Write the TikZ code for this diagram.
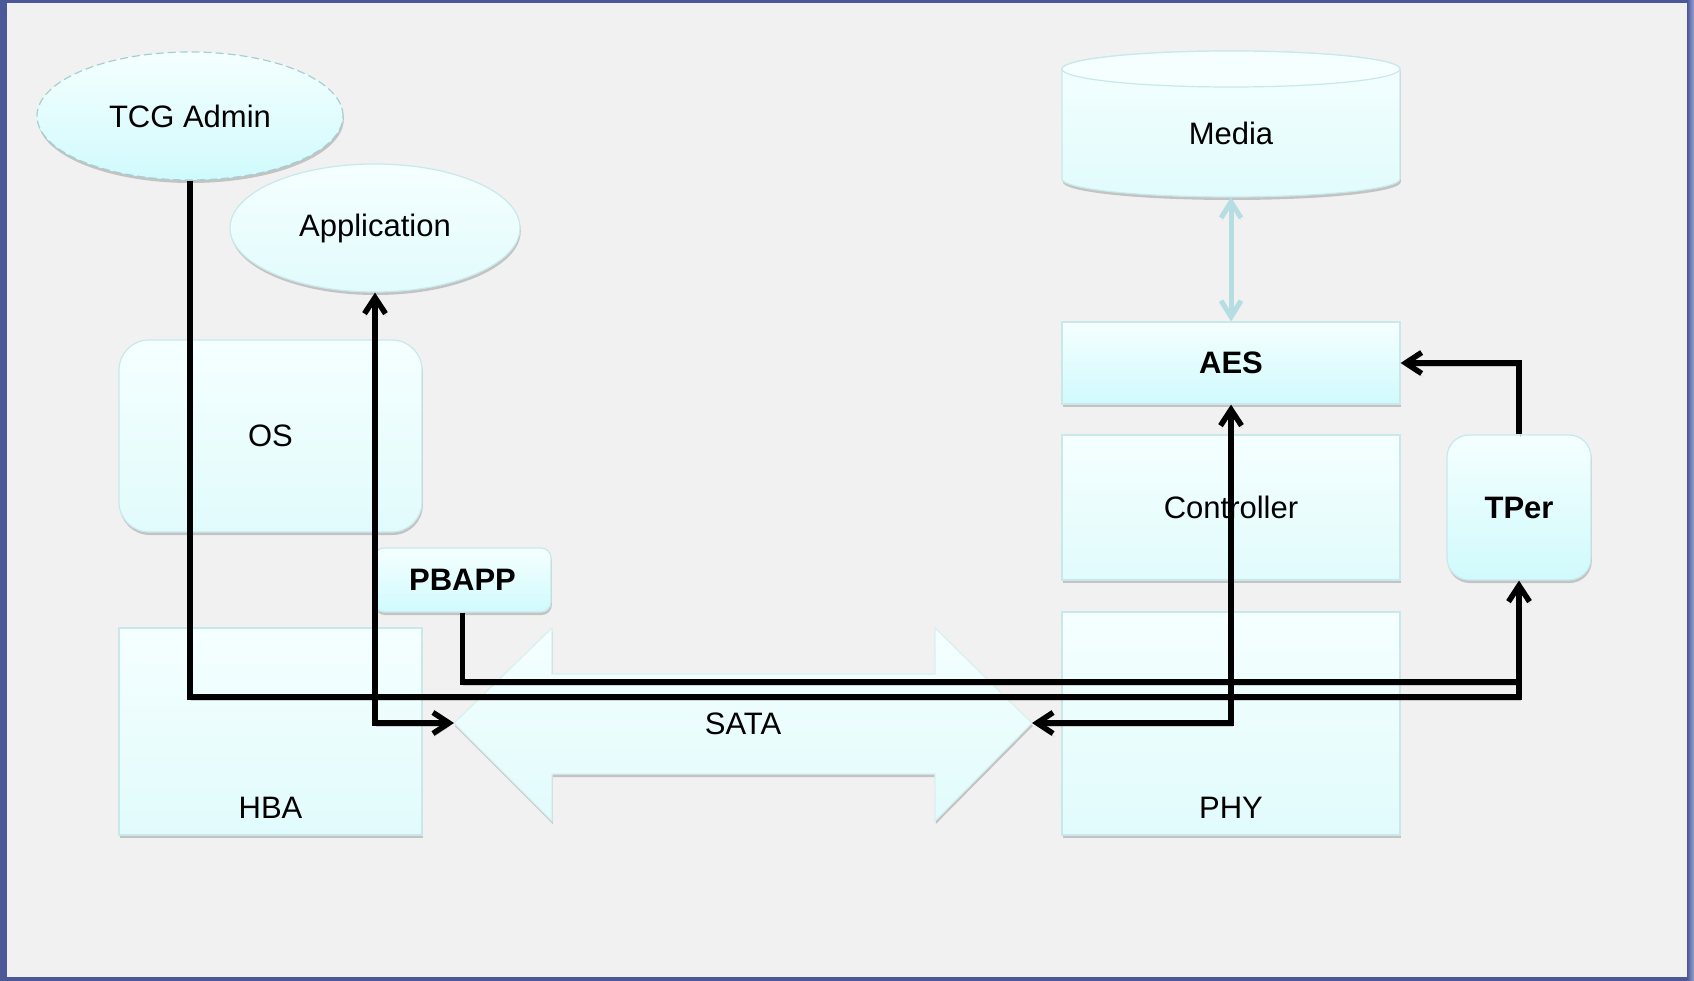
\documentclass[tikz,border=0pt]{standalone}
\usepackage{fontspec}
\setmainfont{Liberation Sans}
\usetikzlibrary{arrows.meta,shadows,calc,shapes.geometric}

\definecolor{pagebg}{HTML}{F1F1F1}
\definecolor{frameblue}{HTML}{4C5999}
\definecolor{framelight}{HTML}{9AA2D0}
\definecolor{edgecol}{HTML}{C9E8EA}
\definecolor{dashcol}{HTML}{A4D0D4}
\definecolor{paletop}{HTML}{F5FFFF}
\definecolor{palebot}{HTML}{E1FBFC}
\definecolor{deepbot}{HTML}{D0FAFC}
\definecolor{linkblue}{HTML}{B6DEE2}

\tikzset{
  barb/.tip={Straight Barb[length=16pt,width=21pt]},
  softbarb/.tip={Straight Barb[length=16pt,width=20pt]},
}

\begin{document}
\begin{tikzpicture}[x=1pt,y=-1pt,
  lbl/.style={font=\fontsize{31}{37}\selectfont,text=black},
  boldlbl/.style={font=\fontsize{31}{37}\selectfont\bfseries,text=black},
  boxpale/.style={shade,top color=paletop,bottom color=palebot,draw=edgecol,
    line width=1.2pt,inner sep=0pt,
    drop shadow={shadow xshift=0.8pt,shadow yshift=-3pt,opacity=0.28,fill=black!70}},
  boxdeep/.style={boxpale,bottom color=deepbot},
  conn/.style={line width=5.5pt,draw=black,
    preaction={draw=black,opacity=0.16,transform canvas={xshift=1pt,yshift=-3pt}}},
  link/.style={line width=5pt,draw=linkblue,
    preaction={draw=black,opacity=0.08,transform canvas={xshift=1pt,yshift=-3pt}}},
]
\useasboundingbox (0,0) rectangle (1694,981);

% frame and page
\fill[frameblue] (0,0) rectangle (1694,981);
\shade[left color=frameblue,right color=framelight] (1687,0) rectangle (1694,981);
\fill[pagebg] (7,3) rectangle (1687,977);

% host side
\node[boxdeep,ellipse,draw=dashcol,dash pattern=on 8pt off 4pt,
      minimum width=306,minimum height=128,lbl] (tcg) at (190,116) {TCG Admin};
\node[boxpale,ellipse,minimum width=290,minimum height=128,lbl] (app) at (375,228) {Application};
\node[boxpale,rounded corners=30pt,minimum width=303,minimum height=192,lbl] (os) at (270.5,436) {OS};
\node[boxdeep,rounded corners=10pt,minimum width=177,minimum height=64,boldlbl] (pbapp) at (462.5,580) {PBAPP};
\node[boxpale,minimum width=303,minimum height=207] (hba) at (270.5,731.5) {};
\node[lbl] at ($(hba.south)+(0,-28)$) {HBA};

% SATA link
\path[boxpale,draw=edgecol!70] (454,723) -- (552,628) -- (552,674) -- (935,674) -- (935,628)
  -- (1032,723) -- (935,821) -- (935,774) -- (552,774) -- (552,821) -- cycle;
\coordinate (sataL) at (454,723);
\coordinate (sataR) at (1032,723);
\node[lbl] (sata) at (743,724) {SATA};

% device side
\path[boxpale] (1062,69) -- (1062,179)
  arc[start angle=180,end angle=0,x radius=169,y radius=18]
  -- (1400,69) arc[start angle=0,end angle=-180,x radius=169,y radius=18] -- cycle;
\draw[fill=paletop,draw=edgecol,line width=1.2pt] (1231,69) ellipse[x radius=169,y radius=18];
\node[lbl,minimum width=338,minimum height=128,inner sep=0pt] (media) at (1231,133) {Media};

\node[boxdeep,minimum width=338,minimum height=82,boldlbl] (aes) at (1231,363) {AES};
\node[boxpale,minimum width=338,minimum height=145,lbl] (ctrl) at (1231,507.5) {Controller};
\node[boxpale,minimum width=338,minimum height=223] (phy) at (1231,723.5) {};
\node[lbl] at ($(phy.south)+(0,-28)$) {PHY};
\node[boxdeep,rounded corners=22pt,minimum width=144,minimum height=145,boldlbl] (tper) at (1519,507.5) {TPer};

% connectors
\coordinate (busA) at (1519,697);
\coordinate (busB) at (1519,682);
\draw[link,softbarb-softbarb] (media.south) -- (aes.north);
\draw[conn] (pbapp.south) |- (busB);
\draw[conn,-barb] (tcg.south) |- (busA) -- (tper.south);
\draw[conn,barb-barb] (sataL) -| (app.south);
\draw[conn,barb-barb] (sataR) -| (aes.south);
\draw[conn,-barb] (tper.north) |- (aes.east);
\end{tikzpicture}
\end{document}
